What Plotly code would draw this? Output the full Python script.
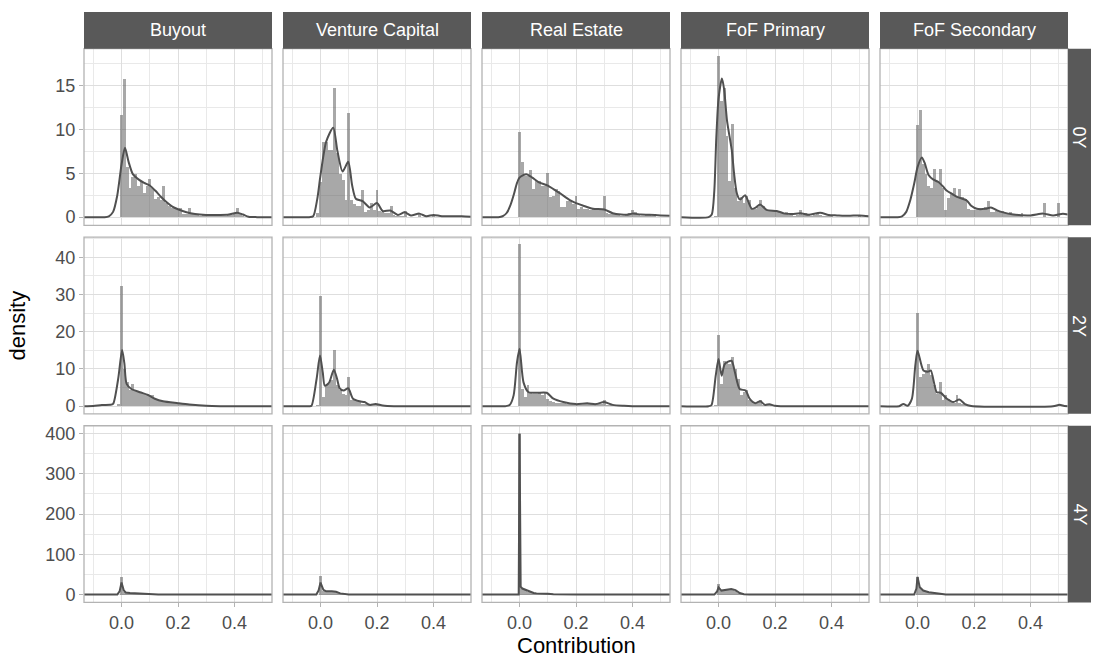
import plotly.graph_objects as go

# ---------------- data ----------------
PERIODS = ["0Y", "2Y", "4Y"]
STRATEGIES = ["Buyout", "Venture Capital", "Real Estate", "FoF Primary", "FoF Secondary"]
BIN_START = -0.01   # centre of first histogram bin
BIN_WIDTH = 0.01
X_TICKS = [0.0, 0.2, 0.4]
Y_TICKS = {"0Y": [0, 5, 10, 15], "2Y": [0, 10, 20, 30, 40], "4Y": [0, 100, 200, 300, 400]}
Y_MAX = {"0Y": 18.3, "2Y": 43.3, "4Y": 400}

# histogram densities (bins from -0.01 upward, width 0.01)
H_0Y_BUYOUT = [0, 11.7, 15.8, 5.8, 3.4, 4.6, 5.0, 3.6, 4.2, 2.8, 3.6, 4.4, 3.4, 2.1, 2.3, 2.0, 3.6, 1.7, 1.3, 1.1, 1.1,
               0.8, 1.1, 0.4, 0.4, 1.1, 0.4, 0.3, 0.3, 0.2, 0.3, 0.3, 0.2, 0.2, 0.4, 0.2, 0.3, 0.2, 0.2, 0.3, 0.3,
               0.5, 1.1, 0.5, 0.2, 0.1, 0.1, 0, 0, 0.1, 0, 0]
H_0Y_VC = [0.5, 4.0, 8.6, 8.6, 7.7, 7.7, 14.8, 7.4, 4.9, 4.3, 2.0, 11.9, 2.0, 1.5, 1.3, 1.3, 3.1, 0.6, 0.8, 1.7, 0.8,
           3.1, 0.7, 0.6, 0.5, 0.5, 1.3, 0.3, 0.2, 0.2, 0.2, 0.75, 0.1, 0.1, 0.1, 0.1, 0.5, 0.1, 0.05, 0.05, 0.1,
           0.3, 0.05, 0.05, 0.05, 0.05, 0.15, 0.05, 0.05, 0.05, 0.05, 0.1]
H_0Y_RE = [0, 9.7, 6.3, 4.7, 4.7, 5.4, 3.2, 4.2, 4.2, 3.6, 3.6, 5.1, 2.3, 2.5, 3.2, 3.0, 1.25, 1.25, 1.9, 1.9, 1.5,
           2.5, 1.0, 1.2, 0.95, 0.95, 0.9, 0.95, 0.8, 0.9, 0.9, 2.5, 0.5, 0.4, 0.4, 0.4, 0.3, 0.2, 0.2, 0.3, 0.5,
           0.8, 0.6, 0.3, 0.2, 0.2, 0.25, 0.3, 0.2, 0.15, 0.1, 0.1]
H_0Y_FOFP = [0.2, 18.4, 13.3, 14.7, 9.3, 4.2, 10.7, 3.4, 1.9, 2.3, 1.7, 2.5, 2.0, 1.1, 1.0, 1.2, 2.0, 1.3, 0.9, 0.9,
             0.8, 0.9, 0.6, 0.5, 0.4, 0.6, 0.3, 0.3, 0.2, 0.3, 0.9, 0.3, 0.5, 0.3, 0.2, 0.3, 0.5, 0.3, 0.2, 0.2,
             0.2, 0.2, 0.1, 0.1, 0.1, 0.1, 0.1, 0.1, 0.1, 0.1, 0.1, 0.3]
H_0Y_FOFS = [0, 10.5, 12.2, 6.1, 4.9, 3.6, 3.4, 5.5, 4.0, 5.5, 3.4, 0.8, 2.2, 2.8, 3.4, 2.3, 3.2, 2.3, 2.1, 1.0, 0.9,
             0.9, 0.9, 1.1, 0.8, 1.2, 1.9, 0.6, 0.6, 0.7, 0.6, 0.7, 0.5, 0.5, 0.6, 0.3, 0.3, 0.3, 0.5, 0.1, 0.1,
             0.1, 0.1, 0.1, 0.1, 0.1, 1.7, 0.1, 0.1, 0.1, 0.1, 1.7]

H_2Y_BUYOUT = [0.6, 32.3, 10.0, 6.4, 4.2, 6.0, 4.2, 3.8, 3.8, 3.3, 3.1, 2.9, 2.9, 2.0, 1.5, 1.25, 1.0, 1.0, 1.0, 0.9,
               0.9, 0.8, 0.6, 0.6, 0.5, 0.4, 0.3, 0.2, 0.1, 0.1, 0.1, 0.1]
H_2Y_VC = [0.3, 29.6, 2.4, 5.5, 6.0, 6.9, 15.1, 5.5, 4.2, 3.3, 2.9, 7.8, 1.5, 1.5, 1.2, 1.1, 0.6, 0.6, 0.5, 0.4, 0.4,
           0.5, 0.2, 0.1, 0.1, 0.05]
H_2Y_RE = [0, 43.5, 4.5, 2.4, 5.5, 3.75, 3.3, 3.1, 3.75, 2.9, 3.75, 2.0, 1.2, 1.0, 0.8, 0.8, 0.8, 0.7, 0.6, 0.6, 0.6,
           0.6, 0.5, 0.5, 0.5, 0.6, 0.6, 0.5, 0.5, 0.5, 0.4, 1.5, 0.3, 0.3, 0.2, 0.2, 0.1]
H_2Y_FOFP = [0.2, 19.1, 6.0, 12.2, 11.8, 11.3, 13.1, 10.0, 7.3, 3.0, 3.75, 4.4, 1.5, 1.0, 0.8, 0.7, 1.5, 0.35, 0.35,
             0.35, 0.2, 0.2]
H_2Y_FOFS = [0, 24.9, 7.8, 8.7, 9.6, 11.3, 8.2, 5.5, 3.3, 6.4, 1.5, 2.9, 2.0, 1.2, 0.9, 3.0, 0.9, 0.5, 0.3, 0.2, 0,
             0, 0, 0, 0, 0, 0, 0, 0, 0, 0, 0, 0, 0, 0, 0, 0, 0, 0, 0, 0, 0, 0, 0, 0, 0, 0, 0, 0, 0, 0, 0.3]

H_4Y_BUYOUT = [0, 44, 8, 5, 4, 4, 3, 2, 2, 1.5, 1, 1, 0.5]
H_4Y_VC = [0, 47, 10, 10, 10, 10, 10, 6, 3, 1, 0.5]
H_4Y_RE = [0, 400, 15, 12, 8, 6, 5, 4, 3, 3, 2, 2, 2, 1]
H_4Y_FOFP = [0, 28, 10, 12, 13, 14, 14, 10, 5, 2, 1]
H_4Y_FOFS = [0, 44, 18, 12, 7, 6, 5, 4, 2, 1, 0.5]

# kernel density curves (x, density)
DX_0Y_BUYOUT = [-0.133, -0.06, -0.045, -0.03, -0.015, 0.0, 0.012, 0.025, 0.04, 0.06, 0.08, 0.1, 0.12, 0.14, 0.16,
                0.18, 0.2, 0.23, 0.26, 0.3, 0.35, 0.38, 0.41, 0.43, 0.45, 0.48, 0.533]
DY_0Y_BUYOUT = [0, 0, 0.1, 0.6, 2.5, 6.0, 7.9, 6.3, 4.9, 4.3, 3.9, 3.6, 3.0, 2.3, 1.7,
                1.2, 0.9, 0.55, 0.35, 0.25, 0.25, 0.3, 0.5, 0.3, 0.05, 0, 0]
DX_0Y_VC = [-0.133, -0.04, -0.026, -0.012, 0.0, 0.02, 0.045, 0.06, 0.078, 0.098, 0.112, 0.125, 0.15, 0.174, 0.2,
            0.22, 0.247, 0.274, 0.298, 0.32, 0.35, 0.375, 0.4, 0.43, 0.5, 0.533]
DY_0Y_VC = [0, 0, 0.1, 2.0, 4.8, 8.6, 10.2, 7.5, 5.2, 6.3, 3.6, 2.1, 1.8, 1.1, 1.6,
            0.7, 0.75, 0.25, 0.55, 0.2, 0.4, 0.1, 0.25, 0.1, 0.1, 0.05]
DX_0Y_RE = [-0.133, -0.075, -0.06, -0.045, -0.033, -0.02, -0.01, 0.0, 0.024, 0.045, 0.067, 0.1, 0.12, 0.144, 0.18,
            0.2, 0.226, 0.26, 0.3, 0.33, 0.36, 0.38, 0.4, 0.43, 0.46, 0.5, 0.533]
DY_0Y_RE = [0, 0, 0.1, 0.5, 1.3, 2.6, 3.8, 4.5, 4.9, 4.5, 4.0, 3.6, 3.2, 2.7, 1.9,
            1.6, 1.3, 0.95, 0.87, 0.45, 0.3, 0.27, 0.4, 0.3, 0.27, 0.2, 0.15]
DX_0Y_FOFP = [-0.133, -0.035, -0.024, -0.015, -0.008, 0.0, 0.012, 0.02, 0.03, 0.047, 0.055, 0.065, 0.076, 0.094,
              0.105, 0.118, 0.132, 0.147, 0.17, 0.206, 0.235, 0.26, 0.29, 0.32, 0.36, 0.39, 0.42, 0.46, 0.5, 0.533]
DY_0Y_FOFP = [0, 0, 0.3, 3.0, 9.0, 13.5, 15.8, 14.5, 11.0, 7.6, 5.0, 2.7, 2.0, 2.5,
              1.8, 0.95, 1.1, 1.45, 0.83, 0.7, 0.4, 0.35, 0.45, 0.27, 0.5, 0.25, 0.2, 0.15, 0.2, 0.1]
DX_0Y_FOFS = [-0.133, -0.07, -0.055, -0.04, -0.026, -0.012, 0.0, 0.015, 0.025, 0.039, 0.055, 0.074, 0.09, 0.104,
              0.12, 0.14, 0.174, 0.19, 0.21, 0.24, 0.26, 0.28, 0.3, 0.34, 0.4, 0.445, 0.48, 0.515, 0.533]
DY_0Y_FOFS = [0, 0, 0.1, 0.6, 1.9, 3.8, 5.7, 6.8, 6.2, 4.8, 4.3, 4.0, 3.5, 3.0,
              2.7, 2.3, 1.9, 1.3, 0.95, 0.95, 1.1, 0.8, 0.57, 0.3, 0.2, 0.4, 0.2, 0.4, 0.3]

DX_2Y_BUYOUT = [-0.133, -0.1, -0.07, -0.04, -0.03, -0.012, 0.002, 0.01, 0.018, 0.035, 0.065, 0.094, 0.118, 0.147,
                0.2, 0.24, 0.3, 0.35, 0.533]
DY_2Y_BUYOUT = [0, 0.05, 0.3, 0.35, 0.6, 7.3, 15.1, 11.5, 6.0, 4.6, 3.75, 3.0, 2.0, 1.3,
                0.8, 0.45, 0.1, 0, 0]
DX_2Y_VC = [-0.133, -0.04, -0.032, -0.014, -0.002, 0.008, 0.015, 0.03, 0.047, 0.058, 0.068, 0.082, 0.098, 0.115,
            0.139, 0.156, 0.174, 0.195, 0.22, 0.26, 0.533]
DY_2Y_VC = [0, 0, 0.1, 7.3, 13.6, 9.0, 5.5, 6.25, 9.8, 7.5, 4.8, 4.2, 4.8, 2.0,
            1.3, 1.1, 0.35, 0.6, 0.2, 0, 0]
DX_2Y_RE = [-0.133, -0.05, -0.035, -0.021, -0.009, 0.0, 0.014, 0.032, 0.061, 0.096, 0.12, 0.155, 0.2, 0.24, 0.27,
            0.3, 0.33, 0.37, 0.4, 0.533]
DY_2Y_RE = [0, 0, 0.3, 2.9, 11.8, 15.4, 6.4, 3.75, 3.6, 3.6, 2.0, 1.1, 0.55, 0.8, 0.55,
            1.1, 0.35, 0.1, 0, 0]
DX_2Y_FOFP = [-0.133, -0.035, -0.025, -0.01, 0.0, 0.011, 0.022, 0.046, 0.058, 0.075, 0.096, 0.11, 0.13, 0.148,
              0.164, 0.18, 0.2, 0.22, 0.533]
DY_2Y_FOFP = [0, 0, 0.3, 8.2, 12.7, 8.2, 11.3, 12.2, 9.1, 4.6, 4.2, 2.0, 0.8, 1.3,
              0.35, 0.5, 0.1, 0, 0]
DX_2Y_FOFS = [-0.133, -0.065, -0.05, -0.035, -0.02, -0.008, 0.0, 0.021, 0.039, 0.047, 0.068, 0.082, 0.104, 0.127,
              0.148, 0.168, 0.19, 0.48, 0.503, 0.52, 0.533]
DY_2Y_FOFS = [0, 0, 0.6, 0.1, 2.0, 10.9, 14.9, 9.6, 9.3, 9.6, 3.75, 3.6, 2.0, 1.1,
              1.8, 0.55, 0.05, 0, 0.35, 0.05, 0]

DX_4Y_BUYOUT = [-0.133, -0.015, -0.007, 0.0, 0.008, 0.015, 0.03, 0.05, 0.07, 0.1, 0.13, 0.533]
DY_4Y_BUYOUT = [0, 0, 8, 30, 10, 5, 4, 3, 2, 0.5, 0, 0]
DX_4Y_VC = [-0.133, -0.015, -0.007, 0.0, 0.01, 0.02, 0.04, 0.055, 0.07, 0.085, 0.1, 0.533]
DY_4Y_VC = [0, 0, 10, 30, 12, 8, 8, 7, 3, 1, 0, 0]
DX_4Y_RE = [-0.133, -0.003, 0.0, 0.004, 0.01, 0.02, 0.03, 0.04, 0.05, 0.06, 0.08, 0.1, 0.12, 0.15, 0.2, 0.533]
DY_4Y_RE = [0, 0, 400, 20, 15, 12, 8, 5, 4, 3, 3, 2, 1, 0.3, 0, 0]
DX_4Y_FOFP = [-0.133, -0.015, -0.005, 0.0, 0.01, 0.025, 0.045, 0.06, 0.075, 0.09, 0.11, 0.533]
DY_4Y_FOFP = [0, 0, 8, 18, 10, 12, 14, 11, 4, 1, 0, 0]
DX_4Y_FOFS = [-0.133, -0.012, -0.004, 0.0, 0.008, 0.02, 0.04, 0.06, 0.08, 0.1, 0.533]
DY_4Y_FOFS = [0, 0, 15, 44, 18, 10, 6, 4, 1, 0, 0]

HIST = {
    "0Y": [H_0Y_BUYOUT, H_0Y_VC, H_0Y_RE, H_0Y_FOFP, H_0Y_FOFS],
    "2Y": [H_2Y_BUYOUT, H_2Y_VC, H_2Y_RE, H_2Y_FOFP, H_2Y_FOFS],
    "4Y": [H_4Y_BUYOUT, H_4Y_VC, H_4Y_RE, H_4Y_FOFP, H_4Y_FOFS],
}
DENS = {
    "0Y": [(DX_0Y_BUYOUT, DY_0Y_BUYOUT), (DX_0Y_VC, DY_0Y_VC), (DX_0Y_RE, DY_0Y_RE), (DX_0Y_FOFP, DY_0Y_FOFP), (DX_0Y_FOFS, DY_0Y_FOFS)],
    "2Y": [(DX_2Y_BUYOUT, DY_2Y_BUYOUT), (DX_2Y_VC, DY_2Y_VC), (DX_2Y_RE, DY_2Y_RE), (DX_2Y_FOFP, DY_2Y_FOFP), (DX_2Y_FOFS, DY_2Y_FOFS)],
    "4Y": [(DX_4Y_BUYOUT, DY_4Y_BUYOUT), (DX_4Y_VC, DY_4Y_VC), (DX_4Y_RE, DY_4Y_RE), (DX_4Y_FOFP, DY_4Y_FOFP), (DX_4Y_FOFS, DY_4Y_FOFS)],
}

# ---------------- layout constants ----------------
W, H = 1095, 662
PANEL_LEFT = [84, 283, 482, 681, 880]
PANEL_W = 188
ROW_TOP = [47, 237, 427]
ROW_H = 178
STRIP_TOP = 10
STRIP_RIGHT_W = 23
X_RANGE = [-0.133, 0.533]
FONT = "Liberation Sans, Arial, sans-serif"
STRIP_FILL = "#595959"
BORDER = "#B3B3B3"
GRID_MAJOR = "#DEDEDE"
GRID_MINOR = "#E9E9E9"
BAR_FILL = "rgba(89,89,89,0.52)"
LINE_COL = "#505050"
TICK_COL = "#4D4D4D"

fig = go.Figure()
layout = {}
shapes = []
annotations = []

for r, period in enumerate(PERIODS):
    ymax = Y_MAX[period]
    pad = ymax * 0.05
    yr = [-pad - (0.6 if period != "4Y" else 0), ymax + pad]
    if period == "0Y":
        yr = [-0.93, 19.2]
    elif period == "2Y":
        yr = [-2.07, 45.4]
    else:
        yr = [-19.5, 419.5]
    ydtick = Y_TICKS[period][1] - Y_TICKS[period][0]
    for c, strat in enumerate(STRATEGIES):
        k = r * 5 + c + 1
        xs = "x" if k == 1 else f"x{k}"
        ys = "y" if k == 1 else f"y{k}"
        x0 = PANEL_LEFT[c] / W
        x1 = (PANEL_LEFT[c] + PANEL_W) / W
        y1 = 1 - ROW_TOP[r] / H
        y0 = 1 - (ROW_TOP[r] + ROW_H) / H

        vals = HIST[period][c]
        bx = [round(BIN_START + i * BIN_WIDTH, 2) for i in range(len(vals))]
        fig.add_trace(go.Bar(x=bx, y=vals, width=BIN_WIDTH, marker=dict(color=BAR_FILL, line=dict(width=0)),
                             xaxis=xs, yaxis=ys, showlegend=False, hoverinfo="skip"))
        dx, dy = DENS[period][c]
        shape = "spline" if period != "4Y" else "linear"
        fig.add_trace(go.Scatter(x=dx, y=dy, mode="lines",
                                 line=dict(color=LINE_COL, width=2, shape=shape, smoothing=0.7 if shape == "spline" else None),
                                 xaxis=xs, yaxis=ys, showlegend=False, hoverinfo="skip"))

        xname = "xaxis" if k == 1 else f"xaxis{k}"
        yname = "yaxis" if k == 1 else f"yaxis{k}"
        bottom = (r == len(PERIODS) - 1)
        left = (c == 0)
        layout[xname] = dict(
            domain=[x0, x1], anchor=ys, range=X_RANGE, tick0=0, dtick=0.2, tickformat=".1f",
            showticklabels=bottom, ticks="outside" if bottom else "", ticklen=4, tickcolor=BORDER,
            tickfont=dict(size=18, color=TICK_COL, family=FONT),
            showgrid=True, gridcolor=GRID_MAJOR, gridwidth=1.1, zeroline=False, showline=False,
            minor=dict(dtick=0.1, tick0=0, showgrid=True, gridcolor=GRID_MINOR, gridwidth=0.8),
            fixedrange=True,
        )
        layout[yname] = dict(
            domain=[y0, y1], anchor=xs, range=yr, tick0=0, dtick=ydtick,
            showticklabels=left, ticks="outside" if left else "", ticklen=4, tickcolor=BORDER,
            tickfont=dict(size=18, color=TICK_COL, family=FONT),
            showgrid=True, gridcolor=GRID_MAJOR, gridwidth=1.1, zeroline=False, showline=False,
            minor=dict(dtick=ydtick / 2, tick0=0, showgrid=True, gridcolor=GRID_MINOR, gridwidth=0.8),
            fixedrange=True,
        )
        # panel border
        shapes.append(dict(type="rect", xref="paper", yref="paper", x0=x0, x1=x1, y0=y0, y1=y1,
                           line=dict(color=BORDER, width=1.3), fillcolor="rgba(0,0,0,0)", layer="above"))

        # top strips
        if r == 0:
            sy0 = 1 - ROW_TOP[0] / H
            sy1 = 1 - STRIP_TOP / H
            shapes.append(dict(type="rect", xref="paper", yref="paper", x0=x0, x1=x1, y0=sy0, y1=sy1,
                               line=dict(width=0), fillcolor=STRIP_FILL, layer="above"))
            annotations.append(dict(x=(x0 + x1) / 2, y=(sy0 + sy1) / 2, xref="paper", yref="paper",
                                    text=strat, showarrow=False, font=dict(size=18, color="white", family=FONT),
                                    xanchor="center", yanchor="middle"))
    # right strip
    rx0 = (PANEL_LEFT[-1] + PANEL_W) / W
    rx1 = (PANEL_LEFT[-1] + PANEL_W + STRIP_RIGHT_W) / W
    ry1 = 1 - ROW_TOP[r] / H
    ry0 = 1 - (ROW_TOP[r] + ROW_H) / H
    shapes.append(dict(type="rect", xref="paper", yref="paper", x0=rx0, x1=rx1, y0=ry0, y1=ry1,
                       line=dict(width=0), fillcolor=STRIP_FILL, layer="above"))
    annotations.append(dict(x=(rx0 + rx1) / 2, y=(ry0 + ry1) / 2, xref="paper", yref="paper",
                            text=period, textangle=90, showarrow=False,
                            font=dict(size=18, color="white", family=FONT), xanchor="center", yanchor="middle"))

# axis titles
annotations.append(dict(x=(PANEL_LEFT[0] + PANEL_LEFT[-1] + PANEL_W) / 2 / W, y=1 - 648 / H, xref="paper", yref="paper",
                        text="Contribution", showarrow=False, font=dict(size=22, color="black", family=FONT),
                        xanchor="center", yanchor="middle"))
annotations.append(dict(x=18 / W, y=1 - (ROW_TOP[0] + ROW_TOP[-1] + ROW_H) / 2 / H, xref="paper", yref="paper",
                        text="density", textangle=-90, showarrow=False, font=dict(size=22, color="black", family=FONT),
                        xanchor="center", yanchor="middle"))

fig.update_layout(
    width=W, height=H, margin=dict(l=0, r=0, t=0, b=0),
    paper_bgcolor="white", plot_bgcolor="white",
    barmode="overlay", bargap=0, showlegend=False,
    shapes=shapes, annotations=annotations,
    font=dict(family=FONT),
    **layout,
)

fig.write_html("out.html")
